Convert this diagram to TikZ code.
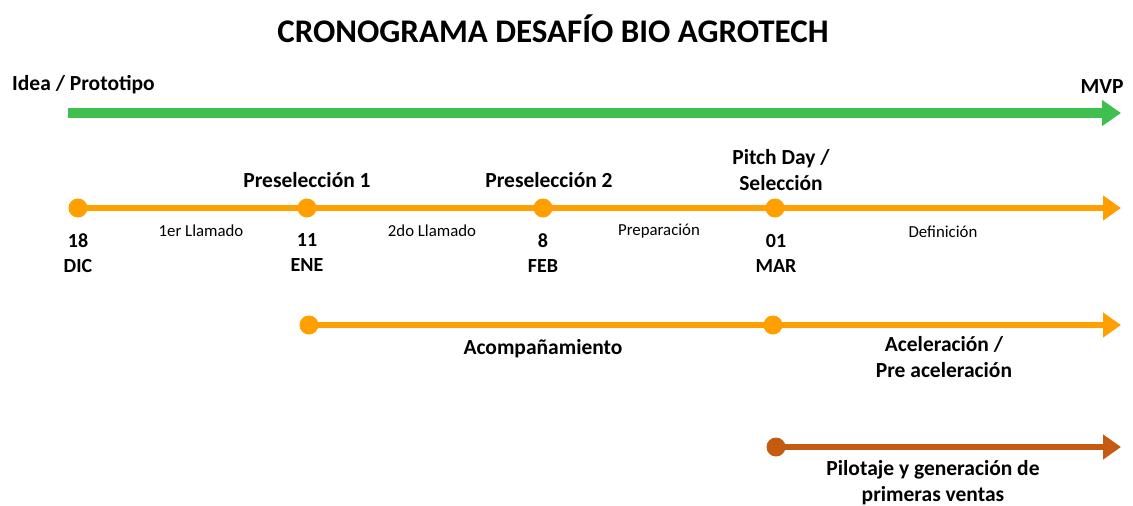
\documentclass[tikz,border=0pt]{standalone}
\usepackage{fontspec}
\setmainfont{Carlito}
\usetikzlibrary{arrows.meta}

\definecolor{gantgreen}{HTML}{3FBF4E}
\definecolor{gantorange}{HTML}{FFA000}
\definecolor{gantrust}{HTML}{C55A11}

\begin{document}
\begin{tikzpicture}[x=1pt, y=-1pt, every node/.style={font=\bfseries\fontsize{21.5}{26}\selectfont, align=center, inner sep=0pt},
	dot/.style={circle, fill=#1, minimum size=19pt},
	track/.style={draw=#1, line width=6pt, -{Triangle[length=18pt, width=24pt]}},
	period/.style={font=\fontsize{16.8}{19}\selectfont},
	datelbl/.style={font=\bfseries\fontsize{20}{25}\selectfont}]
	\useasboundingbox (0,0) rectangle (1133,506);
	\node (title) at (553,29) {\fontsize{33}{38}\selectfont CRONOGRAMA DESAFÍO BIO AGROTECH};
	% stage line
	\node[anchor=west] (idea) at (12,85) {Idea / Prototipo};
	\node (mvp) at (1102,87) {MVP};
	\coordinate (gstart) at (68,113);
	\coordinate (gend) at (1121,113);
	\draw[draw=gantgreen, line width=10pt, -{Triangle[length=19pt, width=25pt]}] (gstart) -- (gend);
	% main timeline
	\node[dot=gantorange] (d1) at (78,208) {};
	\node[dot=gantorange] (d2) at (307,208) {};
	\node[dot=gantorange] (d3) at (543,208) {};
	\node[dot=gantorange] (d4) at (775,208) {};
	\coordinate (tend) at (1121,208);
	\draw[track=gantorange] (d1.center) -- (d2.center) -- (d3.center) -- (d4.center) -- (tend);
	\node (pre1) at (307,180) {Preselección 1};
	\node (pre2) at (549,180) {Preselección 2};
	\node (pitch) at (781,170) {Pitch Day /\\Selección};
	\node[datelbl] at (78,253) {18\\DIC};
	\node[datelbl] at (307,253) {11\\ENE};
	\node[datelbl] at (543,253) {8\\FEB};
	\node[datelbl] at (776,253) {01\\MAR};
	\node[period] at (201,231) {1er Llamado};
	\node[period] at (432,231) {2do Llamado};
	\node[period] at (659,231) {Preparación};
	\node[period] at (943,232) {Definición};
	% acompanamiento
	\node[dot=gantorange] (a1) at (309,325) {};
	\node[dot=gantorange] (a2) at (773,325) {};
	\coordinate (aend) at (1121,325);
	\draw[track=gantorange] (a1.center) -- (a2.center) -- (aend);
	\node (acomp) at (543,349) {Acompañamiento};
	\node (acel) at (944,357) {Aceleración /\\Pre aceleración};
	% pilotaje
	\node[dot=gantrust] (p1) at (776,447) {};
	\coordinate (pend) at (1121,447);
	\draw[track=gantrust] (p1.center) -- (pend);
	\node (pilot) at (933,483) {Pilotaje y generación de\\primeras ventas};
\end{tikzpicture}
\end{document}
